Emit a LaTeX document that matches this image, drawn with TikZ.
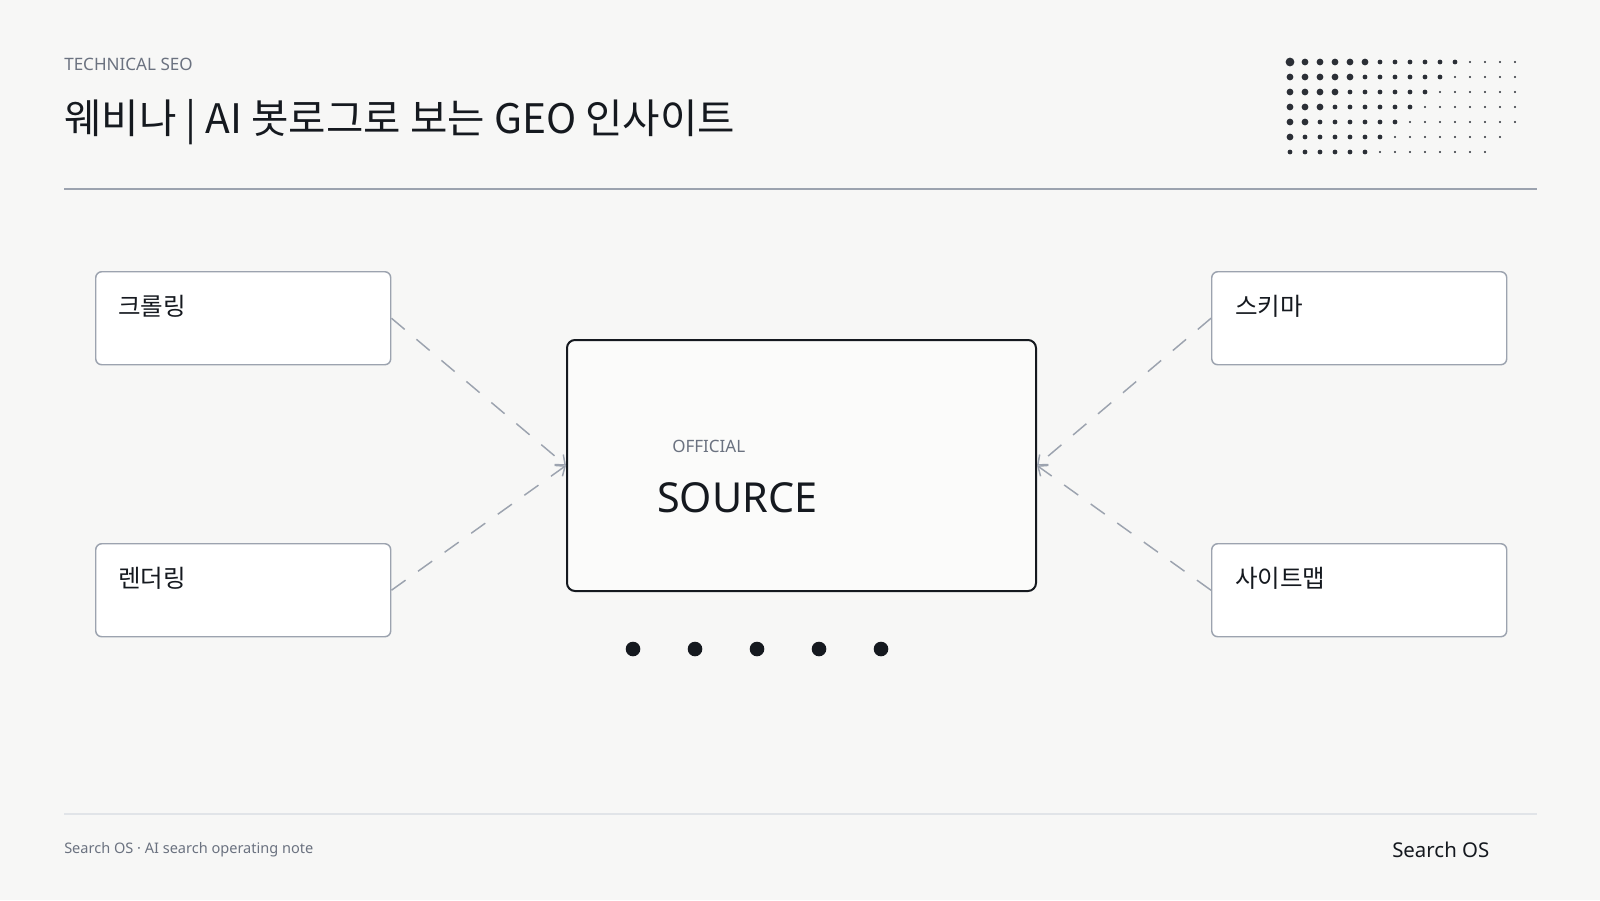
\documentclass[tikz,border=0pt]{standalone}
\usepackage{fontspec}
\setmainfont{Noto Sans}
\newfontfamily\krfont{Noto Sans CJK KR}
\usetikzlibrary{arrows.meta}
\definecolor{bg}{HTML}{F7F7F6}
\definecolor{boxgray}{HTML}{9CA3AF}
\definecolor{rulegray}{HTML}{9CA3AF}
\definecolor{footrule}{HTML}{E1E4E8}
\definecolor{ink}{HTML}{15191F}
\definecolor{muted}{HTML}{6B7280}
\definecolor{srcfill}{HTML}{FBFBFA}
\definecolor{dotink}{HTML}{2B2F36}
\begin{document}
\begin{tikzpicture}[x=0.75pt,y=-0.75pt,
  lbox/.style={draw=boxgray, line width=1.1pt, fill=white, rounded corners=4.5pt,
    minimum width=221.25pt, minimum height=69.75pt, inner sep=0pt, anchor=north west},
  srcbox/.style={draw=ink, line width=1.5pt, fill=srcfill, rounded corners=6pt,
    minimum width=351.75pt, minimum height=188.25pt, inner sep=0pt, anchor=north west},
  conn/.style={draw=boxgray, line width=1.1pt, dash pattern=on 13pt off 11.5pt,
    -{Straight Barb[length=6pt,width=10pt]}},
  lbl/.style={font=\krfont\fontsize{18.4pt}{21pt}\selectfont, text=ink, anchor=base west, inner sep=0pt},
  txt/.style={anchor=base west, inner sep=0pt},
  gdot/.style={fill=dotink, draw=none},
  bdot/.style={fill=ink, draw=none}
]
\fill[bg] (0,0) rectangle (1600,900);
\useasboundingbox (0,0) rectangle (1600,900);

% header
\node[txt, text=muted, font=\fontsize{12.8pt}{15pt}\selectfont] (kicker) at (64,70.7) {TECHNICAL SEO};
\node[txt, text=ink, font=\krfont\fontsize{30.5pt}{35pt}\selectfont] (title) at (64,133) {웨비나 | AI 봇로그로 보는 GEO 인사이트};
\draw[rulegray, line width=1.5pt] (64,189) -- (1537,189);

% dot grid
\foreach \j in {0,...,6}{
  \foreach \i in {0,...,15}{
    \pgfmathtruncatemacro\s{\i+\j}
    \ifnum\s=0
      \fill[gdot] (1290+15*\i,62+15*\j) circle (4.4);
    \else\ifnum\s<6
      \fill[gdot] (1290+15*\i,62+15*\j) circle (3.4);
    \else\ifnum\s<12
      \fill[gdot] (1290+15*\i,62+15*\j) circle (2.4);
    \else\ifnum\s<20
      \fill[gdot] (1290+15*\i,62+15*\j) circle (1.1);
    \fi\fi\fi\fi
  }
}

% boxes
\node[lbox] (crawl) at (95,271) {};
\node[lbox] (render) at (95,543) {};
\node[lbox] (schema) at (1211,271) {};
\node[lbox] (sitemap) at (1211,543) {};
\node[lbl] (crawlT) at (118,315) {크롤링};
\node[lbl] (renderT) at (118,587) {렌더링};
\node[lbl] (schemaT) at (1235,315) {스키마};
\node[lbl] (sitemapT) at (1235,587) {사이트맵};

\node[srcbox] (src) at (566,339) {};
\node[txt, text=muted, font=\fontsize{12.75pt}{15pt}\selectfont] (official) at (672,452) {OFFICIAL};
\node[txt, text=ink, font=\fontsize{31pt}{36pt}\selectfont] (source) at (657,512) {SOURCE};

% connectors
\draw[conn] (crawl.east) -- (src.west);
\draw[conn] (render.east) -- (src.west);
\draw[conn] (schema.west) -- (src.east);
\draw[conn] (sitemap.west) -- (src.east);

% dots below
\foreach \x in {633,695,757,819,881}{
  \fill[bdot] (\x,649) circle (7.3);
}

% footer
\draw[footrule, line width=1.2pt] (64,814) -- (1537,814);
\node[txt, text=muted, font=\fontsize{10.9pt}{13pt}\selectfont] (footL) at (64,853) {Search OS · AI search operating note};
\node[txt, text=ink, font=\fontsize{15.3pt}{18pt}\selectfont] (footR) at (1392,857) {Search OS};
\end{tikzpicture}
\end{document}
